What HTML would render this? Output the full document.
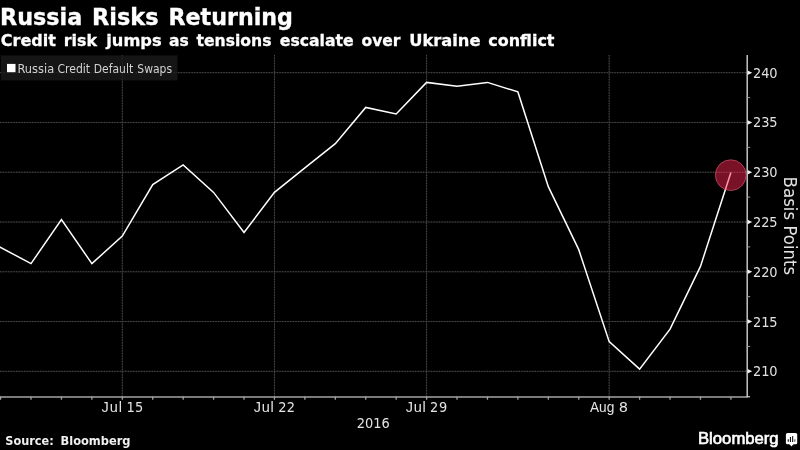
<!DOCTYPE html>
<html lang="en"><head><meta charset="utf-8"><title>Russia Risks Returning</title>
<style>
html,body{margin:0;padding:0;background:#000}
body{width:800px;height:450px;overflow:hidden;position:relative}
svg{position:absolute;left:0;top:0;display:block}
text{white-space:pre}
</style></head><body>
<svg width="800" height="450" viewBox="0 0 800 450" role="img" aria-label="Russia Risks Returning: Russia credit default swaps, basis points">
<rect width="800" height="450" fill="#000"/>
<path d="M0 371.32H747M0 321.55H747M0 271.78H747M0 222.01H747M0 172.24H747M0 122.47H747M0 72.70H747M122.30 55V396M274.45 55V396M426.60 55V396M609.18 55V396" stroke="#1c1c1c" stroke-width="1" fill="none"/>
<path d="M0 371.32H747M0 321.55H747M0 271.78H747M0 222.01H747M0 172.24H747M0 122.47H747M0 72.70H747M122.30 55V396M274.45 55V396M426.60 55V396M609.18 55V396" stroke="#4c4c4c" stroke-width="1" stroke-dasharray="1.33 1.33" fill="none"/>
<rect x="0.8" y="55.4" width="176.7" height="25" fill="#1a1a1a" fill-opacity="0.8"/>
<rect x="7" y="63.9" width="8.5" height="8.3" fill="#fff"/>
<text y="72.9" fill="#d2d2d2" style="font-family:'DejaVu Sans Condensed','DejaVu Sans','Liberation Sans',sans-serif;font-size:12.35px"><tspan x="17.50" textLength="36.67" lengthAdjust="spacingAndGlyphs">Russia</tspan> <tspan x="57.50" textLength="32.62" lengthAdjust="spacingAndGlyphs">Credit</tspan> <tspan x="93.75" textLength="39.38" lengthAdjust="spacingAndGlyphs">Default</tspan> <tspan x="137.30" textLength="34.73" lengthAdjust="spacingAndGlyphs">Swaps</tspan></text>
<path d="M0 396.95H747.5" stroke="#a4a4a4" stroke-width="1.5" fill="none"/>
<path d="M0.58 396.5V399.8M31.01 396.5V399.8M61.44 396.5V399.8M91.87 396.5V399.8M122.30 396.5V399.8M152.73 396.5V399.8M183.16 396.5V399.8M213.59 396.5V399.8M244.02 396.5V399.8M274.45 396.5V399.8M304.88 396.5V399.8M335.31 396.5V399.8M365.74 396.5V399.8M396.17 396.5V399.8M426.60 396.5V399.8M457.03 396.5V399.8M487.46 396.5V399.8M517.89 396.5V399.8M548.32 396.5V399.8M578.75 396.5V399.8M609.18 396.5V399.8M639.61 396.5V399.8M670.04 396.5V399.8M700.47 396.5V399.8M730.90 396.5V399.8" stroke="#a0a0a0" stroke-width="1.3" fill="none"/>
<path d="M747.2 55V397.3" stroke="#c4c4c4" stroke-width="1.5" fill="none"/><path d="M747.2 396.7H750" stroke="#d0d0d0" stroke-width="1.2" fill="none"/>
<path d="M747.3 346.44H750.2M747.3 296.67H750.2M747.3 246.90H750.2M747.3 197.12H750.2M747.3 147.36H750.2M747.3 97.59H750.2" stroke="#9a9a9a" stroke-width="1" fill="none"/>
<path d="M747.6 369.02L752.2 371.32L747.6 373.62ZM747.6 319.25L752.2 321.55L747.6 323.85ZM747.6 269.48L752.2 271.78L747.6 274.08ZM747.6 219.71L752.2 222.01L747.6 224.31ZM747.6 169.94L752.2 172.24L747.6 174.54ZM747.6 120.17L752.2 122.47L747.6 124.77ZM747.6 70.40L752.2 72.70L747.6 75.00Z" fill="#f0f0f0"/>
<polyline points="-0.5,246.85 31.01,263.6 61.44,219.6 91.87,263.6 122.3,236.1 152.73,184.65 183.16,164.9 213.59,192.4 244.02,232.4 274.45,192.4 304.88,167.9 335.31,143.65 365.74,107.4 396.17,113.9 426.6,82.4 457.03,86.15 487.46,82.4 517.89,91.9 548.32,186.65 578.75,249.65 609.18,341.65 639.61,369.15 670.04,329.15 700.47,266.4 730.9,172.6" fill="none" stroke="#fff" stroke-width="1.5" stroke-linejoin="miter"/>
<circle cx="730.75" cy="175.15" r="15.4" fill="#ff2652" fill-opacity="0.48" stroke="#ff6a8c" stroke-opacity="0.5" stroke-width="1"/>
<text x="752.90" y="376.32" textLength="24.72" fill="#e2e2e2" style="font-family:'DejaVu Sans Condensed','DejaVu Sans','Liberation Sans',sans-serif;font-size:14.4px">210</text><text x="752.90" y="326.55" textLength="24.72" fill="#e2e2e2" style="font-family:'DejaVu Sans Condensed','DejaVu Sans','Liberation Sans',sans-serif;font-size:14.4px">215</text><text x="752.90" y="276.78" textLength="24.72" fill="#e2e2e2" style="font-family:'DejaVu Sans Condensed','DejaVu Sans','Liberation Sans',sans-serif;font-size:14.4px">220</text><text x="752.90" y="227.01" textLength="24.72" fill="#e2e2e2" style="font-family:'DejaVu Sans Condensed','DejaVu Sans','Liberation Sans',sans-serif;font-size:14.4px">225</text><text x="752.90" y="177.24" textLength="24.72" fill="#e2e2e2" style="font-family:'DejaVu Sans Condensed','DejaVu Sans','Liberation Sans',sans-serif;font-size:14.4px">230</text><text x="752.90" y="127.47" textLength="24.72" fill="#e2e2e2" style="font-family:'DejaVu Sans Condensed','DejaVu Sans','Liberation Sans',sans-serif;font-size:14.4px">235</text><text x="752.90" y="77.70" textLength="24.72" fill="#e2e2e2" style="font-family:'DejaVu Sans Condensed','DejaVu Sans','Liberation Sans',sans-serif;font-size:14.4px">240</text>
<text y="411.5" fill="#e2e2e2" style="font-family:'DejaVu Sans Condensed','DejaVu Sans','Liberation Sans',sans-serif;font-size:14.4px"><tspan x="101.60" textLength="20.45" lengthAdjust="spacing" style="font-family:'Liberation Sans','DejaVu Sans',sans-serif;font-size:14.5px">Jul</tspan> <tspan x="126.50" textLength="16.73" lengthAdjust="spacing" style="font-family:'DejaVu Sans Condensed','DejaVu Sans','Liberation Sans',sans-serif;font-size:14.4px">15</tspan></text><text y="411.5" fill="#e2e2e2" style="font-family:'DejaVu Sans Condensed','DejaVu Sans','Liberation Sans',sans-serif;font-size:14.4px"><tspan x="253.75" textLength="19.90" lengthAdjust="spacing" style="font-family:'Liberation Sans','DejaVu Sans',sans-serif;font-size:14.5px">Jul</tspan> <tspan x="278.25" textLength="16.73" lengthAdjust="spacing" style="font-family:'DejaVu Sans Condensed','DejaVu Sans','Liberation Sans',sans-serif;font-size:14.4px">22</tspan></text><text y="411.5" fill="#e2e2e2" style="font-family:'DejaVu Sans Condensed','DejaVu Sans','Liberation Sans',sans-serif;font-size:14.4px"><tspan x="405.75" textLength="20.05" lengthAdjust="spacing" style="font-family:'Liberation Sans','DejaVu Sans',sans-serif;font-size:14.5px">Jul</tspan> <tspan x="430.00" textLength="17.23" lengthAdjust="spacing" style="font-family:'DejaVu Sans Condensed','DejaVu Sans','Liberation Sans',sans-serif;font-size:14.4px">29</tspan></text><text y="411.5" fill="#e2e2e2" style="font-family:'DejaVu Sans Condensed','DejaVu Sans','Liberation Sans',sans-serif;font-size:14.4px"><tspan x="590.00" textLength="24.31" lengthAdjust="spacingAndGlyphs" style="font-family:'Liberation Sans','DejaVu Sans',sans-serif;font-size:14.5px">Aug</tspan> <tspan x="618.85" textLength="9.30" lengthAdjust="spacingAndGlyphs" style="font-family:'DejaVu Sans Condensed','DejaVu Sans','Liberation Sans',sans-serif;font-size:14.4px">8</tspan></text><text y="427.6" fill="#e2e2e2" style="font-family:'DejaVu Sans Condensed','DejaVu Sans','Liberation Sans',sans-serif;font-size:14.4px"><tspan x="356.85" textLength="32.85" lengthAdjust="spacing">2016</tspan></text>
<text transform="translate(783.9 0) rotate(90)" fill="#e2e2e2" style="font-family:'DejaVu Sans','Liberation Sans',sans-serif;font-size:17px"><tspan x="176.60" y="0" textLength="43.53" lengthAdjust="spacingAndGlyphs">Basis</tspan> <tspan x="225.50" y="0" textLength="49.58" lengthAdjust="spacingAndGlyphs">Points</tspan></text>
<text y="24.5" fill="#fff" style="font-family:'DejaVu Sans','Liberation Sans',sans-serif;font-weight:bold;font-size:22.35px;stroke:#fff;stroke-width:0.35px"><tspan x="-0.00" textLength="82.20" lengthAdjust="spacingAndGlyphs">Russia</tspan> <tspan x="92.00" textLength="66.58" lengthAdjust="spacingAndGlyphs">Risks</tspan> <tspan x="168.50" textLength="124.44" lengthAdjust="spacingAndGlyphs">Returning</tspan></text>
<text y="45.9" fill="#fff" style="font-family:'DejaVu Sans','Liberation Sans',sans-serif;font-weight:bold;font-size:16.1px;stroke:#fff;stroke-width:0.3px"><tspan x="0.75" textLength="55.16" lengthAdjust="spacingAndGlyphs">Credit</tspan> <tspan x="63.75" textLength="33.25" lengthAdjust="spacingAndGlyphs">risk</tspan> <tspan x="106.25" textLength="55.34" lengthAdjust="spacingAndGlyphs">jumps</tspan> <tspan x="168.95" textLength="19.80" lengthAdjust="spacingAndGlyphs">as</tspan> <tspan x="196.50" textLength="75.02" lengthAdjust="spacingAndGlyphs">tensions</tspan> <tspan x="279.75" textLength="73.89" lengthAdjust="spacingAndGlyphs">escalate</tspan> <tspan x="361.50" textLength="38.91" lengthAdjust="spacingAndGlyphs">over</tspan> <tspan x="409.25" textLength="71.22" lengthAdjust="spacingAndGlyphs">Ukraine</tspan> <tspan x="488.25" textLength="66.23" lengthAdjust="spacingAndGlyphs">conflict</tspan></text>
<text y="445.2" fill="#f0f0f0" style="font-family:'DejaVu Sans','Liberation Sans',sans-serif;font-weight:bold;font-size:11.6px"><tspan x="5.25" textLength="48.42" lengthAdjust="spacingAndGlyphs">Source:</tspan> <tspan x="60.50" textLength="70.02" lengthAdjust="spacingAndGlyphs">Bloomberg</tspan></text>
<text x="698.00" y="444.4" textLength="80.66" lengthAdjust="spacingAndGlyphs" fill="#fff" style="font-family:'Liberation Sans','DejaVu Sans',sans-serif;font-size:15.8px;stroke:#fff;stroke-width:0.6px">Bloomberg</text>
<g fill="#fff"><rect x="785.9" y="432.9" width="11.3" height="11.4" rx="1.6"/><path d="M789.4 444 L791.5 446.6 L793.6 444Z"/></g>
<g fill="#111"><rect x="787.7" y="439.3" width="1.1" height="2.5"/><rect x="789.9" y="437" width="1.1" height="5"/><rect x="792.1" y="436.1" width="1.1" height="5.9"/><rect x="794.3" y="439.3" width="1.1" height="2.5" fill="#555"/></g>
</svg>
</body></html>
